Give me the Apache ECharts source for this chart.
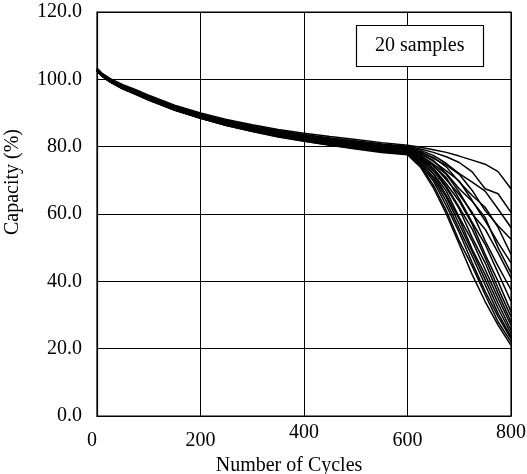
<!DOCTYPE html>
<html>
<head>
<meta charset="utf-8">
<script src="https://cdn.jsdelivr.net/npm/echarts@6/dist/echarts.min.js"></script>
<style>
  html, body { margin: 0; padding: 0; background: #fff; }
  #chart { width: 527px; height: 474px; }
</style>
</head>
<body>
<div id="chart"></div>
<script>
// Cycle numbers at which capacity was measured
const cycles = [0, 10, 25, 50, 75, 100, 150, 200, 250, 300, 350, 400, 450, 500, 550, 600, 625, 650, 675, 700, 725, 750, 775, 800];

// Capacity retention (%) of each of the 20 cells
const s01 = [103.3,101.8,100.3,98.4,96.9,95.3,92.3,90.0,88.1,86.5,85.1,84.0,83.0,82.1,81.2,80.4,79.8,79.1,78.3,77.2,76.0,74.8,72.6,67.5];
const s02 = [103.0,101.5,99.9,97.9,96.5,94.8,91.8,89.5,87.6,85.9,84.5,83.4,82.5,81.6,80.8,80.1,79.3,78.3,77.0,75.3,72.5,67.5,66.0,60.5];
const s03 = [102.8,101.3,99.7,97.7,96.3,94.5,91.6,89.3,87.4,85.8,84.4,83.2,82.3,81.4,80.6,79.9,78.9,77.4,75.0,72.0,69.5,66.8,61.5,56.0];
const s04 = [103.2,101.6,100.1,98.1,96.6,95.0,92.0,89.7,87.8,86.2,84.8,83.6,82.6,81.7,80.7,79.7,78.5,76.5,74.5,71.8,67.0,61.0,56.5,52.5];
const s05 = [102.6,101.1,99.5,97.5,96.1,94.3,91.4,89.1,87.2,85.5,84.1,82.9,81.9,81.0,80.2,79.5,78.4,76.8,74.0,69.5,65.5,62.0,56.0,48.0];
const s06 = [103.0,101.4,99.8,97.8,96.4,94.6,91.7,89.4,87.4,85.7,84.2,83.0,82.0,81.1,80.2,79.4,78.0,75.6,72.8,69.8,64.0,58.0,51.5,45.5];
const s07 = [102.7,101.2,99.6,97.5,96.0,94.3,91.3,88.9,86.9,85.2,83.8,82.6,81.6,80.8,79.9,79.3,77.9,75.9,72.0,67.5,63.8,59.0,50.0,42.5];
const s08 = [103.1,101.5,99.9,97.9,96.5,94.7,91.7,89.3,87.3,85.6,84.1,82.9,81.8,80.9,80.0,79.2,77.5,74.8,71.8,66.5,60.0,55.5,48.5,41.0];
const s09 = [102.5,101.0,99.4,97.3,95.8,94.1,91.1,88.7,86.7,85.0,83.5,82.3,81.3,80.4,79.6,79.0,77.2,74.5,70.2,65.8,60.5,52.0,44.5,37.5];
const s10 = [102.9,101.3,99.7,97.6,96.1,94.4,91.4,89.0,87.0,85.3,83.8,82.6,81.5,80.6,79.7,78.9,77.0,74.3,70.8,64.5,57.5,51.0,42.5,34.0];
const s11 = [103.0,101.4,99.8,97.8,96.2,94.5,91.5,89.1,87.0,85.3,83.7,82.5,81.4,80.5,79.6,78.9,76.9,73.6,69.0,63.8,57.0,48.0,40.0,31.0];
const s12 = [102.6,101.1,99.5,97.4,95.9,94.2,91.2,88.8,86.8,85.1,83.6,82.4,81.3,80.3,79.4,78.7,76.6,73.5,68.2,62.0,55.5,47.0,38.0,29.5];
const s13 = [103.1,101.5,99.8,97.8,96.3,94.6,91.5,89.1,87.0,85.2,83.7,82.4,81.3,80.3,79.3,78.6,76.4,72.8,67.8,61.5,53.0,45.5,36.5,28.0];
const s14 = [102.8,101.2,99.5,97.4,95.8,94.1,91.1,88.6,86.6,84.9,83.4,82.2,81.1,80.1,79.1,78.5,76.0,72.0,66.8,59.0,52.0,43.5,35.0,27.0];
const s15 = [102.5,100.9,99.3,97.2,95.6,93.9,90.9,88.5,86.4,84.7,83.2,82.0,80.9,79.9,79.0,78.4,75.9,71.9,65.5,58.5,49.5,42.0,33.5,25.5];
const s16 = [102.9,101.2,99.5,97.5,96.0,94.3,91.3,88.8,86.8,85.0,83.4,82.1,81.0,80.0,79.0,78.3,75.4,71.0,65.0,57.0,48.8,40.5,32.0,24.5];
const s17 = [102.6,101.0,99.3,97.3,95.7,94.0,91.0,88.6,86.5,84.8,83.2,81.9,80.8,79.8,78.8,78.1,75.2,70.5,63.8,55.5,47.5,39.0,30.5,23.5];
const s18 = [102.8,101.1,99.5,97.4,95.9,94.2,91.2,88.7,86.6,84.8,83.2,81.9,80.7,79.7,78.7,78.0,74.7,69.8,62.5,54.5,45.5,37.0,29.5,23.0];
const s19 = [102.4,100.9,99.2,97.1,95.5,93.8,90.8,88.4,86.3,84.6,83.0,81.7,80.5,79.5,78.5,77.8,74.4,68.6,61.0,52.0,44.5,36.0,28.0,22.0];
const s20 = [102.7,101.0,99.3,97.2,95.6,93.9,90.9,88.4,86.3,84.5,82.9,81.6,80.4,79.3,78.3,77.6,73.9,67.8,60.0,51.0,42.0,34.0,27.0,21.0];

const samples = [s01, s02, s03, s04, s05, s06, s07, s08, s09, s10,
                 s11, s12, s13, s14, s15, s16, s17, s18, s19, s20];

const xTicks = [0, 200, 400, 600, 800];
const yTicks = [0, 20, 40, 60, 80, 100, 120];
const legendText = '20 samples';
const xTitle = 'Number of Cycles';
const yTitle = 'Capacity (%)';

const FONT = '"Liberation Serif", "Times New Roman", serif';

const chart = echarts.init(document.getElementById('chart'), null, { renderer: 'canvas' });

const series = samples.map((vals, i) => ({
  name: 'Sample ' + (i + 1),
  type: 'line',
  data: cycles.map((c, j) => [c, vals[j]]),
  showSymbol: false,
  symbol: 'none',
  lineStyle: { color: '#000', width: 1.5 },
  silent: true,
  animation: false,
  z: 3
}));

chart.setOption({
  animation: false,
  backgroundColor: '#fff',
  title: {
    text: legendText,
    left: 356,
    top: 25,
    padding: [9, 19],
    borderColor: '#000',
    borderWidth: 1.2,
    backgroundColor: '#fff',
    textStyle: { fontFamily: FONT, fontSize: 20, fontWeight: 'normal', color: '#000', lineHeight: 24 }
  },
  grid: {
    left: 97, right: 16, top: 12, bottom: 58,
    outerBoundsMode: 'none',
    containLabel: false,
    show: true,
    borderColor: '#000',
    borderWidth: 1.2,
    backgroundColor: 'transparent'
  },
  xAxis: {
    type: 'value',
    min: xTicks[0],
    max: xTicks[xTicks.length - 1],
    interval: xTicks[1] - xTicks[0],
    name: xTitle,
    nameLocation: 'middle',
    nameGap: 36,
    nameTextStyle: { fontFamily: FONT, fontSize: 20, color: '#000', padding: [0, 30, 0, 0] },
    axisLine: { show: true, lineStyle: { color: '#000', width: 1.2 } },
    axisTick: { show: false },
    splitLine: { show: true, lineStyle: { color: '#000', width: 1 } },
    axisLabel: {
      margin: 7,
      fontFamily: FONT, fontSize: 20, color: '#000',
      formatter: v => (v === 400 || v === 800) ? '{hi|' + v + '}' : (v === 0 ? '{zero|0}' : '{lo|' + v + '}'),
      rich: {
        hi: { fontFamily: FONT, fontSize: 20, color: '#000' },
        lo: { fontFamily: FONT, fontSize: 20, color: '#000', padding: [8, 0, 0, 0] },
        zero: { fontFamily: FONT, fontSize: 20, color: '#000', padding: [8, 10, 0, 0] }
      }
    }
  },
  yAxis: {
    type: 'value',
    min: yTicks[0],
    max: yTicks[yTicks.length - 1],
    interval: yTicks[1] - yTicks[0],
    name: yTitle,
    nameLocation: 'middle',
    nameGap: 74,
    nameRotate: 90,
    nameTextStyle: { fontFamily: FONT, fontSize: 20, color: '#000', padding: [0, 0, 0, 64] },
    axisLine: { show: true, lineStyle: { color: '#000', width: 1.2 } },
    axisTick: { show: false },
    splitLine: { show: true, lineStyle: { color: '#000', width: 1 } },
    axisLabel: {
      margin: 15,
      fontFamily: FONT, fontSize: 20, color: '#000',
      formatter: v => v.toFixed(1)
    }
  },
  series: series
});
</script>
</body>
</html>
